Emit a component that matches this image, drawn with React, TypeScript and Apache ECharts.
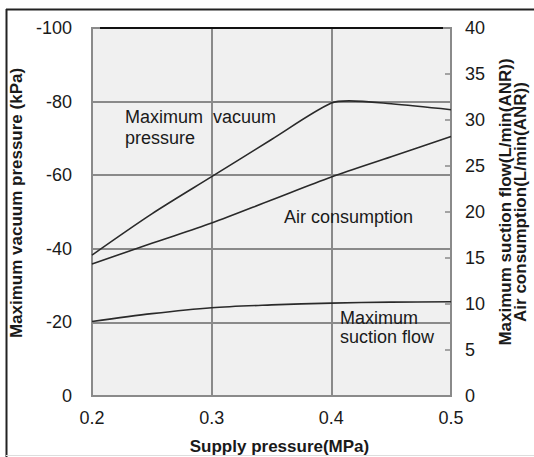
import React, { useEffect, useRef } from "react";
import * as echarts from "echarts";

const supplyPressure = [0.2, 0.25, 0.3, 0.35, 0.4, 0.415, 0.45, 0.5];
const maxVacuumPressure = [-38.3, -49.5, -59.6, -69.7, -79.6, -80.2, -79.4, -77.8];
const airPressurePts = [0.2, 0.25, 0.3, 0.35, 0.4, 0.45, 0.5];
const airConsumption = [14.35, 16.6, 18.8, 21.3, 23.8, 26.0, 28.2];
const suctionPressurePts = [0.2, 0.25, 0.3, 0.35, 0.4, 0.45, 0.5];
const maxSuctionFlow = [8.1, 8.95, 9.6, 9.9, 10.1, 10.2, 10.25];
const xTicks = ["0.2", "0.3", "0.4", "0.5"];

const FONT = "'Liberation Sans', Arial, sans-serif";
const TXT = "#1a1a1a";

export default function App() {
  const ref = useRef<HTMLDivElement>(null);
  useEffect(() => {
    if (!ref.current) return;
    const chart = echarts.init(ref.current, undefined, { renderer: "svg" });
    const line = (name: string, xs: number[], ys: number[], yAxisIndex: number) => ({
      name,
      type: "line",
      yAxisIndex,
      smooth: 0.3,
      showSymbol: false,
      lineStyle: { color: "#2a2a2a", width: 1.6 },
      data: xs.map((x, i) => [x, ys[i]]),
      z: 5,
    });
    chart.setOption({
      animation: false,
      backgroundColor: "#ffffff",
      textStyle: { fontFamily: FONT },
      grid: {
        left: 92,
        right: 83,
        top: 28,
        bottom: 61,
        containLabel: false,
        outerBoundsMode: "none",
        show: true,
        backgroundColor: "#f0f0f0",
        borderColor: "#8a8a8a",
        borderWidth: 2,
      },
      xAxis: {
        type: "value",
        min: 0.2,
        max: 0.5,
        interval: 0.1,
        name: "Supply pressure(MPa)",
        nameLocation: "middle",
        nameGap: 42,
        nameTextStyle: {
          color: TXT,
          fontSize: 17,
          fontWeight: "bold",
          fontFamily: FONT,
          padding: [0, 0, 0, 16],
        },
        axisLine: { show: false },
        axisTick: { show: false },
        axisLabel: {
          color: TXT,
          fontSize: 18,
          margin: 13,
          fontFamily: FONT,
          formatter: (v: number) => xTicks[Math.round((v - 0.2) * 10)] ?? "",
        },
        splitLine: { show: true, lineStyle: { color: "#8a8a8a", width: 2 } },
      },
      yAxis: [
        {
          type: "value",
          min: -100,
          max: 0,
          interval: 20,
          inverse: true,
          position: "left",
          name: "Maximum vacuum pressure (kPa)",
          nameLocation: "middle",
          nameGap: 63,
          nameTextStyle: {
            color: TXT,
            fontSize: 17,
            fontWeight: "bold",
            fontFamily: FONT,
            padding: [0, 0, 0, 18],
          },
          axisLine: { show: false },
          axisTick: { show: false },
          axisLabel: { color: TXT, fontSize: 18, margin: 20, fontFamily: FONT },
          splitLine: { show: true, lineStyle: { color: "#8a8a8a", width: 2 } },
        },
        {
          type: "value",
          min: 0,
          max: 40,
          interval: 5,
          position: "right",
          name: "Maximum suction flow(L/min(ANR))\nAir consumption(L/min(ANR))",
          nameLocation: "middle",
          nameRotate: 90,
          nameGap: 47,
          nameTextStyle: {
            color: TXT,
            fontSize: 17,
            fontWeight: "bold",
            lineHeight: 15,
            fontFamily: FONT,
            padding: [0, 0, 0, 20],
          },
          axisLine: { show: false },
          axisTick: { show: true, inside: true, length: 6, lineStyle: { color: "#8a8a8a", width: 1.5 } },
          axisLabel: { color: TXT, fontSize: 18, margin: 14, fontFamily: FONT },
          splitLine: { show: false },
        },
      ],
      series: [
        line("Maximum vacuum pressure", supplyPressure, maxVacuumPressure, 0),
        line("Air consumption", airPressurePts, airConsumption, 1),
        line("Maximum suction flow", suctionPressurePts, maxSuctionFlow, 1),
      ],
      graphic: [
        { type: "line", shape: { x1: 6.5, y1: 9, x2: 6.5, y2: 457 }, style: { stroke: "#222", lineWidth: 2 } },
        { type: "line", shape: { x1: 6, y1: 9.5, x2: 534, y2: 9.5 }, style: { stroke: "#222", lineWidth: 2 } },
        { type: "line", shape: { x1: 6, y1: 455.5, x2: 534, y2: 455.5 }, style: { stroke: "#ddd", lineWidth: 1 } },
        { type: "line", shape: { x1: 100, y1: 28, x2: 443, y2: 28 }, style: { stroke: "#111", lineWidth: 2 }, z: 10 },
        {
          type: "text",
          left: 125,
          top: 106,
          style: { text: "Maximum  vacuum\npressure", fill: TXT, font: `18px ${FONT}`, lineHeight: 21 },
          z: 10,
        },
        {
          type: "text",
          left: 284,
          top: 206,
          style: { text: "Air consumption", fill: TXT, font: `18px ${FONT}`, lineHeight: 21 },
          z: 10,
        },
        {
          type: "text",
          left: 340,
          top: 308,
          style: { text: "Maximum\nsuction flow", fill: TXT, font: `18px ${FONT}`, lineHeight: 19 },
          z: 10,
        },
      ],
    });
    return () => chart.dispose();
  }, []);
  return <div ref={ref} style={{ position: "fixed", left: 0, top: 0, width: 534, height: 457 }} />;
}
